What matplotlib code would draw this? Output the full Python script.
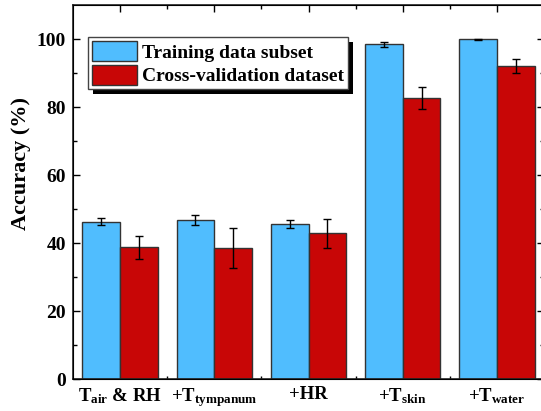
import matplotlib
matplotlib.use("Agg")
import matplotlib.pyplot as plt
import numpy as np
from matplotlib.patches import Rectangle

categories = [r"$\mathrm{T_{air}}$ & RH", r"+$\mathrm{T_{tympanum}}$", "+HR",
              r"+$\mathrm{T_{skin}}$", r"+$\mathrm{T_{water}}$"]
train = [46.3, 46.8, 45.7, 98.4, 99.9]
train_err = [1.0, 1.6, 1.1, 0.85, 0.1]
cv = [38.8, 38.7, 42.9, 82.6, 92.0]
cv_err = [3.3, 5.9, 4.2, 3.3, 2.1]
series_names = ["Training data subset", "Cross-validation dataset"]
yticks = [0, 20, 40, 60, 80, 100]

plt.rcParams['font.family'] = ['Liberation Serif']
plt.rcParams['font.weight'] = 'bold'
plt.rcParams['mathtext.fontset'] = 'custom'
plt.rcParams['mathtext.rm'] = 'Liberation Serif:bold'
plt.rcParams['mathtext.it'] = 'Liberation Serif:bold'
plt.rcParams['mathtext.bf'] = 'Liberation Serif:bold'

W, H = 541, 411
fig = plt.figure(figsize=(W / 100, H / 100), dpi=100)
ax_left, ax_right, ax_top, ax_bottom = 73, 544, 5, 379.3
ax = fig.add_axes([ax_left / W, 1 - ax_bottom / H, (ax_right - ax_left) / W, (ax_bottom - ax_top) / H])

x = np.arange(len(categories))
w = 0.4
blue = '#50BDFE'
red = '#C80606'
edge = '#333333'
ax.bar(x - w / 2, train, w, color=blue, edgecolor=edge, linewidth=1.0, label=series_names[0], zorder=2)
ax.bar(x + w / 2, cv, w, color=red, edgecolor=edge, linewidth=1.0, label=series_names[1], zorder=2)
ax.errorbar(x - w / 2, train, yerr=train_err, fmt='none', ecolor='black', elinewidth=1, capsize=3.2, capthick=1, zorder=3)
ax.errorbar(x + w / 2, cv, yerr=cv_err, fmt='none', ecolor='black', elinewidth=1, capsize=3.2, capthick=1, zorder=3)

ax.set_xlim(-0.5, 4.5)
ax.set_ylim(0, 110)
ax.set_yticks(yticks)
ax.set_yticks(np.arange(10, 110, 20), minor=True)
ax.set_xticks(x)
ax.set_xticklabels(categories, fontsize=13.5, fontweight='bold')
ax.set_xticks(x[:-1] + 0.5, minor=True)
ax.tick_params(axis='y', which='major', direction='in', length=5, width=1, left=True, right=True, labelsize=14, pad=5)
ax.tick_params(axis='y', which='minor', direction='in', length=3, width=1, left=True, right=True)
ax.tick_params(axis='x', which='major', direction='in', length=0, pad=5)
ax.tick_params(axis='x', which='minor', direction='in', length=2.5, width=1, bottom=True)
for lab in ax.get_yticklabels():
    lab.set_fontweight('bold')
for s in ax.spines.values():
    s.set_linewidth(1.2)
    s.set_color('#222222')

ax2 = ax.twiny()
ax2.set_xlim(ax.get_xlim())
ax2.set_xticks(x)
ax2.set_xticks(x[:-1] + 0.5, minor=True)
ax2.tick_params(axis='x', which='major', direction='in', length=5, width=1, labeltop=False)
ax2.tick_params(axis='x', which='minor', direction='in', length=3, width=1)

ax.set_ylabel("Accuracy (%)", fontsize=16, fontweight='bold', labelpad=4)
ax.yaxis.label.set_y((ax_bottom - 163) / (ax_bottom - ax_top))

leg_x = (88 - ax_left) / (ax_right - ax_left)
leg_y = (ax_bottom - 37) / (ax_bottom - ax_top)
leg = ax2.legend(*ax.get_legend_handles_labels(), loc='upper left', bbox_to_anchor=(leg_x, leg_y),
                 bbox_transform=ax.transAxes, borderaxespad=0,
                 prop={'weight': 'bold', 'size': 14}, handlelength=2.3, handleheight=1.25,
                 handletextpad=0.3, labelspacing=0.15, borderpad=0.2, fancybox=False,
                 framealpha=1, edgecolor='#444444', frameon=True)
leg.get_frame().set_linewidth(1.0)
leg.set_zorder(10)

fig.canvas.draw()
bb = leg.get_window_extent()
off = 5
sh = Rectangle((bb.x0 + off, bb.y0 - off), bb.width, bb.height, transform=None,
               facecolor='black', edgecolor='none', zorder=9)
ax2.add_artist(sh)
sh.set_clip_on(False)

fig.savefig("out.png", dpi=100)
